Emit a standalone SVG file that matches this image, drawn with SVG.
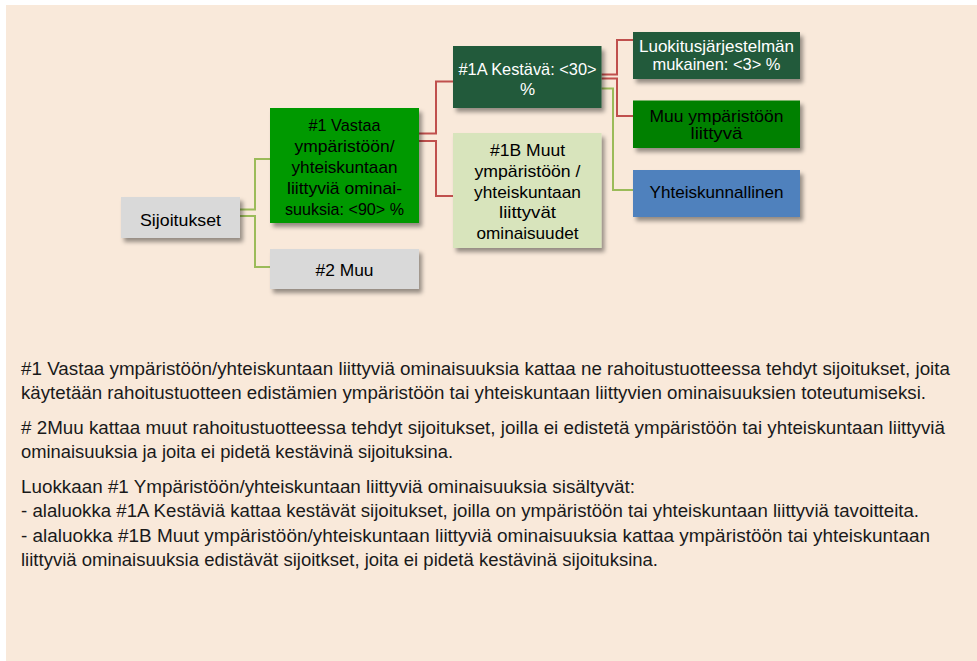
<svg xmlns="http://www.w3.org/2000/svg" width="977" height="661" viewBox="0 0 977 661">
  <defs>
    <filter id="sh" x="-20%" y="-20%" width="140%" height="150%">
      <feDropShadow dx="3" dy="4" stdDeviation="2" flood-color="#000" flood-opacity="0.4"/>
    </filter>
    <style>
      text { font-family: "Liberation Sans", Arial, sans-serif; }
      .node { font-size: 17px; text-anchor: middle; }
      .dark { fill: #000; }
      .light { fill: #fff; }
      .body { font-size: 17.5px; fill: #1a1a1a; }
      .cg { fill: none; stroke: #9bbb59; stroke-width: 2; }
      .cr { fill: none; stroke: #c0504d; stroke-width: 2; }
    </style>
  </defs>
  <rect x="0" y="0" width="977" height="661" fill="#ffffff"/>
  <rect x="6" y="5" width="971" height="656" fill="#f9e9da"/>

  <g id="connectors">
    <path class="cg" d="M240,209.5 H255 V159 H270"/>
    <path class="cg" d="M240,216 H255 V267 H270"/>
    <path class="cr" d="M419,133.5 H436 V81.5 H453"/>
    <path class="cr" d="M419,141 H436 V196 H453"/>
    <path class="cr" d="M601.5,74.5 H617 V40 H633"/>
    <path class="cr" d="M601.5,78.5 H617 V116 H633"/>
    <path class="cg" d="M601.5,88.5 H613 V190 H633"/>
  </g>

  <g id="sijoitukset">
    <rect x="121" y="197" width="119" height="41" fill="#d9d9d9" filter="url(#sh)"/>
    <text class="node dark" x="180.5" y="225.5" textLength="81" lengthAdjust="spacingAndGlyphs">Sijoitukset</text>
  </g>

  <g id="n1">
    <rect x="270" y="108" width="149" height="115" fill="#009900" filter="url(#sh)"/>
    <text class="node dark" x="344.5" y="131" textLength="72" lengthAdjust="spacingAndGlyphs">#1 Vastaa</text>
    <text class="node dark" x="344.5" y="152" textLength="100" lengthAdjust="spacingAndGlyphs">ympäristöön/</text>
    <text class="node dark" x="344.5" y="173" textLength="106" lengthAdjust="spacingAndGlyphs">yhteiskuntaan</text>
    <text class="node dark" x="344.5" y="194" textLength="115" lengthAdjust="spacingAndGlyphs">liittyviä ominai-</text>
    <text class="node dark" x="344.5" y="214.5" textLength="119" lengthAdjust="spacingAndGlyphs">suuksia: &lt;90&gt; %</text>
  </g>

  <g id="n2">
    <rect x="270" y="249" width="149" height="40" fill="#d9d9d9" filter="url(#sh)"/>
    <text class="node dark" x="344.5" y="275.5" textLength="58" lengthAdjust="spacingAndGlyphs">#2 Muu</text>
  </g>

  <g id="n1a">
    <rect x="453" y="46" width="148.5" height="62" fill="#245a3b" filter="url(#sh)"/>
    <text class="node light" x="527.5" y="74.5" textLength="138" lengthAdjust="spacingAndGlyphs">#1A Kestävä: &lt;30&gt;</text>
    <text class="node light" x="527.5" y="95">%</text>
  </g>

  <g id="n1b">
    <rect x="453" y="133" width="148.5" height="115" fill="#d8e4bc" filter="url(#sh)"/>
    <text class="node dark" x="527.5" y="156" textLength="75" lengthAdjust="spacingAndGlyphs">#1B Muut</text>
    <text class="node dark" x="527.5" y="176.8" textLength="106" lengthAdjust="spacingAndGlyphs">ympäristöön /</text>
    <text class="node dark" x="527.5" y="197.5" textLength="107" lengthAdjust="spacingAndGlyphs">yhteiskuntaan</text>
    <text class="node dark" x="527.5" y="218.3" textLength="57" lengthAdjust="spacingAndGlyphs">liittyvät</text>
    <text class="node dark" x="527.5" y="239" textLength="102" lengthAdjust="spacingAndGlyphs">ominaisuudet</text>
  </g>

  <g id="luokitus">
    <rect x="633" y="32" width="167" height="47" fill="#245a3b" filter="url(#sh)"/>
    <text class="node light" x="716.5" y="51.5" textLength="155" lengthAdjust="spacingAndGlyphs">Luokitusjärjestelmän</text>
    <text class="node light" x="716.5" y="70" textLength="128" lengthAdjust="spacingAndGlyphs">mukainen: &lt;3&gt; %</text>
  </g>

  <g id="muuymp">
    <rect x="633" y="100.5" width="167" height="47.5" fill="#008000" filter="url(#sh)"/>
    <text class="node dark" x="716.5" y="121.5" textLength="134" lengthAdjust="spacingAndGlyphs">Muu ympäristöön</text>
    <text class="node dark" x="716.5" y="139" textLength="52" lengthAdjust="spacingAndGlyphs">liittyvä</text>
  </g>

  <g id="yhteiskunnallinen">
    <rect x="633" y="170" width="167" height="47" fill="#4f81bd" filter="url(#sh)"/>
    <text class="node dark" x="716.5" y="197.5" textLength="134" lengthAdjust="spacingAndGlyphs">Yhteiskunnallinen</text>
  </g>

  <g id="description">
    <text class="body" x="21" y="374.5" textLength="929" lengthAdjust="spacingAndGlyphs">#1 Vastaa ympäristöön/yhteiskuntaan liittyviä ominaisuuksia kattaa ne rahoitustuotteessa tehdyt sijoitukset, joita</text>
    <text class="body" x="21" y="398.5" textLength="905" lengthAdjust="spacingAndGlyphs">käytetään rahoitustuotteen edistämien ympäristöön tai yhteiskuntaan liittyvien ominaisuuksien toteutumiseksi.</text>
    <text class="body" x="21" y="434" textLength="924" lengthAdjust="spacingAndGlyphs"># 2Muu kattaa muut rahoitustuotteessa tehdyt sijoitukset, joilla ei edistetä ympäristöön tai yhteiskuntaan liittyviä</text>
    <text class="body" x="21" y="458.3" textLength="432" lengthAdjust="spacingAndGlyphs">ominaisuuksia ja joita ei pidetä kestävinä sijoituksina.</text>
    <text class="body" x="21" y="492.7" textLength="614" lengthAdjust="spacingAndGlyphs">Luokkaan #1 Ympäristöön/yhteiskuntaan liittyviä ominaisuuksia sisältyvät:</text>
    <text class="body" x="21" y="517.3" textLength="898" lengthAdjust="spacingAndGlyphs">- alaluokka #1A Kestäviä kattaa kestävät sijoitukset, joilla on ympäristöön tai yhteiskuntaan liittyviä tavoitteita.</text>
    <text class="body" x="21" y="542" textLength="909" lengthAdjust="spacingAndGlyphs">- alaluokka #1B Muut ympäristöön/yhteiskuntaan liittyviä ominaisuuksia kattaa ympäristöön tai yhteiskuntaan</text>
    <text class="body" x="21" y="566" textLength="637" lengthAdjust="spacingAndGlyphs">liittyviä ominaisuuksia edistävät sijoitkset, joita ei pidetä kestävinä sijoituksina.</text>
  </g>
</svg>
